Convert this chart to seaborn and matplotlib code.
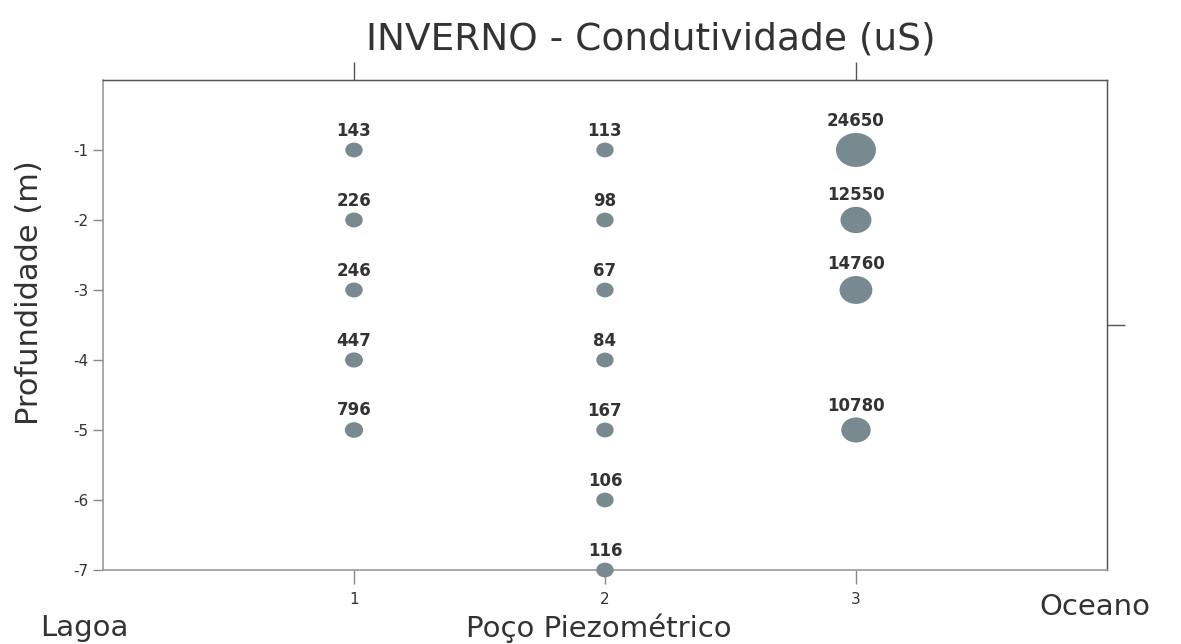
import numpy as np
import pandas as pd
import matplotlib
matplotlib.use('Agg')
import matplotlib.pyplot as plt
from matplotlib.path import Path
import seaborn as sns

# poço 1, 2, 3 and depth (m)
poco = [1, 1, 1, 1, 1,
        2, 2, 2, 2, 2, 2, 2,
        3, 3, 3, 3]
profundidade = [-1, -2, -3, -4, -5,
                -1, -2, -3, -4, -5, -6, -7,
                -1, -2, -3, -5]
condutividade = [143, 226, 246, 447, 796,
                 113, 98, 67, 84, 167, 106, 116,
                 24650, 12550, 14760, 10780]

df = pd.DataFrame({'poco': poco, 'prof': profundidade, 'cond': condutividade})

sns.set_style('white')
plt.rcParams['font.family'] = ['DejaVu Sans']
plt.rcParams['axes.unicode_minus'] = False

size_range = (155, 830)
ratio = 0.85
circle = Path.unit_circle()
ellipse = Path(circle.vertices * np.array([1.0, ratio]), circle.codes)

fig = plt.figure(figsize=(11.81, 6.44), dpi=100)
ax = fig.add_axes([0.0872, 0.1149, 0.8501, 0.7609])

sns.scatterplot(data=df, x='poco', y='prof', size='cond', sizes=size_range,
                color='#788a8f', marker=ellipse, linewidth=0, legend=False,
                ax=ax, clip_on=False, zorder=5)

vmin, vmax = df['cond'].min(), df['cond'].max()
for _, r in df.iterrows():
    s = size_range[0] + (r['cond'] - vmin) / (vmax - vmin) * (size_range[1] - size_range[0])
    off = np.sqrt(s) * ratio / 2 + 2
    ax.annotate(str(r['cond']), (r['poco'], r['prof']), xytext=(0, off),
                textcoords='offset points', ha='center', va='bottom',
                fontsize=12, fontweight='bold', color='#333333', zorder=6)

ax.set_xlim(0, 4)
ax.set_ylim(-7, 0)
ax.set_xticks([1, 2, 3])
ax.set_yticks([-1, -2, -3, -4, -5, -6, -7])
ax.tick_params(axis='both', labelsize=11, labelcolor='#333333', colors='#888888',
               direction='out', left=True, bottom=True)
ax.tick_params(axis='y', length=7, width=1)
ax.tick_params(axis='x', length=10, width=1, pad=6)
ax.set_xlabel('')
ax.set_ylabel('Profundidade (m)', fontsize=22, color='#333333')
ax.yaxis.set_label_coords(-0.059, 0.567)

for side in ['left', 'bottom']:
    ax.spines[side].set_color('#999999')
    ax.spines[side].set_linewidth(1.2)
for side in ['top', 'right']:
    ax.spines[side].set_color('#555555')
    ax.spines[side].set_linewidth(1.0)

top = ax.secondary_xaxis('top')
top.set_xticks([1, 3])
top.tick_params(length=13, width=1, colors='#555555', labeltop=False)
top.set_xticklabels([])
right = ax.secondary_yaxis('right')
right.set_yticks([-3.5])
right.tick_params(length=13, width=1, colors='#555555', labelright=False)
right.set_yticklabels([])

fig.text(0.551, 0.938, 'INVERNO - Condutividade (uS)', ha='center', va='center',
         fontsize=27, color='#333333')
fig.text(0.507, 0.025, 'Poço Piezométrico', ha='center', va='center',
         fontsize=21, color='#333333')
fig.text(0.034, 0.025, 'Lagoa', ha='left', va='center', fontsize=21, color='#333333')
fig.text(0.974, 0.058, 'Oceano', ha='right', va='center', fontsize=21, color='#333333')

fig.savefig('out.png', dpi=100)
